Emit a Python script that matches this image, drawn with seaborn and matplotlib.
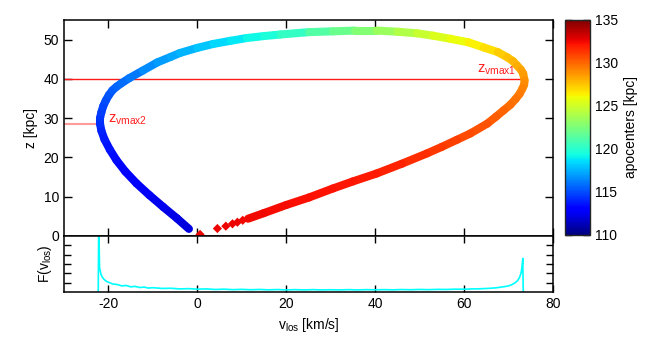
import numpy as np
import pandas as pd
import matplotlib
matplotlib.use("Agg")
import matplotlib.pyplot as plt
from matplotlib.collections import LineCollection
from matplotlib.cm import ScalarMappable
from matplotlib.colors import Normalize
import seaborn as sns

# ---- data ----
# orbit track: line-of-sight velocity, height, apocenter (colour)
v_los = [-1.9, -4.6, -7.7, -10.8, -13.7, -16.2, -18.2, -19.7, -20.9, -21.6,
         -21.9, -21.9, -21.6, -21.2, -20.6, -19.9, -19.1, -18.2, -17.2, -15.3,
         -12.3, -9.0, -6.0, -3.9, 0.0, 3.6, 7.5, 11.1, 15.0, 18.7,
         25.1, 30.5, 35.5, 40.3, 45.0, 49.4, 53.0, 56.9, 61.0, 64.4,
         67.6, 69.7, 71.0, 71.9, 72.8, 73.3, 73.6, 73.5, 73.1, 72.5,
         71.6, 70.4, 68.9, 67.2, 65.2, 61.4, 58.4, 55.0, 51.6, 46.0,
         40.3, 35.0, 30.5, 25.1, 20.0, 14.9, 11.4]
z_kpc = [1.8, 4.5, 7.4, 10.4, 13.4, 16.4, 19.3, 22.0, 24.6, 26.8,
         28.6, 30.0, 31.5, 33.0, 34.5, 35.9, 37.1, 38.0, 38.8, 40.2,
         42.1, 44.2, 45.6, 46.6, 47.9, 48.9, 49.7, 50.4, 50.9, 51.3,
         51.9, 52.1, 52.3, 52.3, 52.0, 51.6, 51.0, 50.2, 49.3, 48.0,
         46.8, 45.5, 44.5, 43.4, 42.3, 41.3, 39.6, 38.5, 37.5, 36.2,
         34.9, 33.4, 32.0, 30.4, 28.6, 26.1, 24.5, 22.7, 21.0, 18.4,
         15.9, 13.9, 12.1, 9.8, 7.9, 5.8, 4.4]
apocenter = [112.0, 112.2, 112.4, 112.6, 112.8, 113.0, 113.3, 113.5, 113.7, 113.9,
             114.1, 114.3, 114.5, 114.7, 114.9, 115.1, 115.3, 115.5, 115.7, 115.9,
             116.3, 116.8, 117.1, 117.4, 117.8, 118.2, 118.6, 119.0, 119.4, 119.8,
             120.9, 121.6, 122.4, 123.1, 123.8, 124.5, 125.1, 125.6, 126.1, 126.6,
             127.1, 127.5, 127.8, 128.0, 128.3, 128.5, 128.8, 129.0, 129.2, 129.4,
             129.6, 129.8, 130.0, 130.2, 130.4, 130.7, 130.9, 131.1, 131.4, 131.7,
             132.0, 132.1, 132.2, 132.3, 132.4, 132.5, 132.5]

# sparse diamonds near the origin
v_sparse = [0.6, 4.5, 6.4, 7.9, 9.0, 10.2]
z_sparse = [0.4, 1.9, 2.5, 3.1, 3.5, 4.0]
apo_sparse = [132.6, 132.6, 132.6, 132.6, 132.6, 132.5]

# distribution F(v_los)
v_F = [-22.3, -22.2, -22.0, -21.7, -21.4, -21.0, -20.5, -20.0, -19.0, -18.0,
       -17.0, -16.0, -15.0, -14.0, -13.0, -12.0, -11.0, -10.0, -8.0, -6.0,
       -4.0, -2.0, 0.0, 2.0, 4.0, 6.0, 8.0, 10.0, 12.0, 14.0,
       16.0, 18.0, 20.0, 22.0, 24.0, 26.0, 28.0, 30.0, 32.0, 34.0,
       36.0, 38.0, 40.0, 42.0, 44.0, 46.0, 48.0, 50.0, 52.0, 54.0,
       56.0, 58.0, 60.0, 62.0, 64.0, 66.0, 67.0, 68.0, 69.0, 70.0,
       70.8, 71.5, 72.0, 72.4, 72.8, 73.0, 73.2, 73.3]
F_v = [0.0, 7.0, 2.6, 1.9, 1.6, 1.35, 1.15, 1.05, 0.85, 0.8,
       0.65, 0.7, 0.55, 0.6, 0.48, 0.52, 0.42, 0.46, 0.38, 0.4,
       0.33, 0.36, 0.3, 0.33, 0.27, 0.3, 0.25, 0.28, 0.24, 0.27,
       0.23, 0.26, 0.22, 0.25, 0.22, 0.25, 0.22, 0.24, 0.22, 0.25,
       0.22, 0.25, 0.23, 0.25, 0.23, 0.26, 0.24, 0.27, 0.25, 0.28,
       0.27, 0.3, 0.3, 0.33, 0.35, 0.4, 0.44, 0.5, 0.57, 0.65,
       0.8, 1.0, 1.2, 1.5, 2.0, 2.6, 3.6, 0.0]

z_vmax1 = 40.0
z_vmax2 = 28.6

# ---- style ----
sns.set_style("ticks")
plt.rcParams["font.family"] = ["Liberation Sans", "DejaVu Sans"]
plt.rcParams["font.size"] = 10
plt.rcParams["axes.unicode_minus"] = False
plt.rcParams["mathtext.fontset"] = "custom"
plt.rcParams["mathtext.rm"] = "Liberation Sans"
plt.rcParams["mathtext.it"] = "Liberation Sans"
for key in ("text.color", "axes.labelcolor", "xtick.color", "ytick.color"):
    plt.rcParams[key] = "black"

cmap = plt.get_cmap("jet")
norm = Normalize(110, 135)

fig = plt.figure(figsize=(6.54, 3.44), dpi=100)
ax = fig.add_axes([0.0979, 0.314, 0.7477, 0.628])
ax2 = fig.add_axes([0.0979, 0.1512, 0.7477, 0.1628], sharex=ax)
cax = fig.add_axes([0.8639, 0.3169, 0.0382, 0.625])

# ---- top panel: coloured track ----
track = pd.DataFrame({"v": v_los, "z": z_kpc, "apo": apocenter})
pts = track[["v", "z"]].to_numpy()
segs = np.stack([pts[:-1], pts[1:]], axis=1)
seg_col = 0.5 * (track["apo"].to_numpy()[:-1] + track["apo"].to_numpy()[1:])
lc = LineCollection(segs, cmap=cmap, norm=norm, linewidths=5.8,
                    capstyle="round", joinstyle="round", zorder=3)
lc.set_array(seg_col)
ax.add_collection(lc)

sparse = pd.DataFrame({"v": v_sparse, "z": z_sparse, "apo": apo_sparse})
sns.scatterplot(data=sparse, x="v", y="z", hue="apo", palette=cmap,
                hue_norm=norm, marker="D", s=22, linewidth=0,
                legend=False, ax=ax, zorder=3)

# reference heights
ax.plot([-30, 73.6], [z_vmax1, z_vmax1], color="#ff1a1a", lw=1.0, zorder=2)
ax.plot([-30, -21.9], [z_vmax2, z_vmax2], color="#ff9a9a", lw=1.5, zorder=2)
ax.text(71.6, 40.6, r"z$_{\mathregular{vmax1}}$", color="#ff2020",
        ha="right", va="bottom", fontsize=10.5, zorder=4)
ax.text(-20.1, 27.8, r"z$_{\mathregular{vmax2}}$", color="#ff2020",
        ha="left", va="bottom", fontsize=10.5, zorder=4)

ax.set_xlim(-30, 80)
ax.set_ylim(0, 55)
ax.set_yticks([0, 10, 20, 30, 40, 50])
ax.set_xticks([-20, 0, 20, 40, 60, 80])
ax.set_ylabel("z [kpc]")
ax.set_xlabel("")
ax.tick_params(direction="in", length=6, width=1, top=True, right=True,
               labelbottom=False)

# ---- bottom panel: distribution ----
dist = pd.DataFrame({"v": v_F, "F": F_v})
sns.lineplot(data=dist, x="v", y="F", color="cyan", lw=1.2, sort=False,
             estimator=None, ax=ax2)
ax2.set_ylim(0, 6)
ax2.set_yticks([1, 2, 3, 4, 5])
ax2.set_yticklabels([])
ax2.set_xlabel(r"v$_{\mathregular{los}}$ [km/s]")
ax2.set_ylabel(r"F(v$_{\mathregular{los}}$)")
ax2.tick_params(axis="x", direction="in", length=5, width=1, top=True)
ax2.tick_params(axis="y", direction="in", length=5, width=1, right=True)

for a in (ax, ax2):
    for sp in a.spines.values():
        sp.set_visible(True)
        sp.set_linewidth(1.1)
        sp.set_color("black")

# ---- colour bar ----
cb = fig.colorbar(ScalarMappable(norm=norm, cmap=cmap), cax=cax)
cb.set_ticks([110, 115, 120, 125, 130, 135])
cb.outline.set_linewidth(1.0)
cax.tick_params(direction="in", length=5, width=1, left=True, right=True)
cb.set_label("apocenters [kpc]")

fig.savefig("out.png", dpi=100)
